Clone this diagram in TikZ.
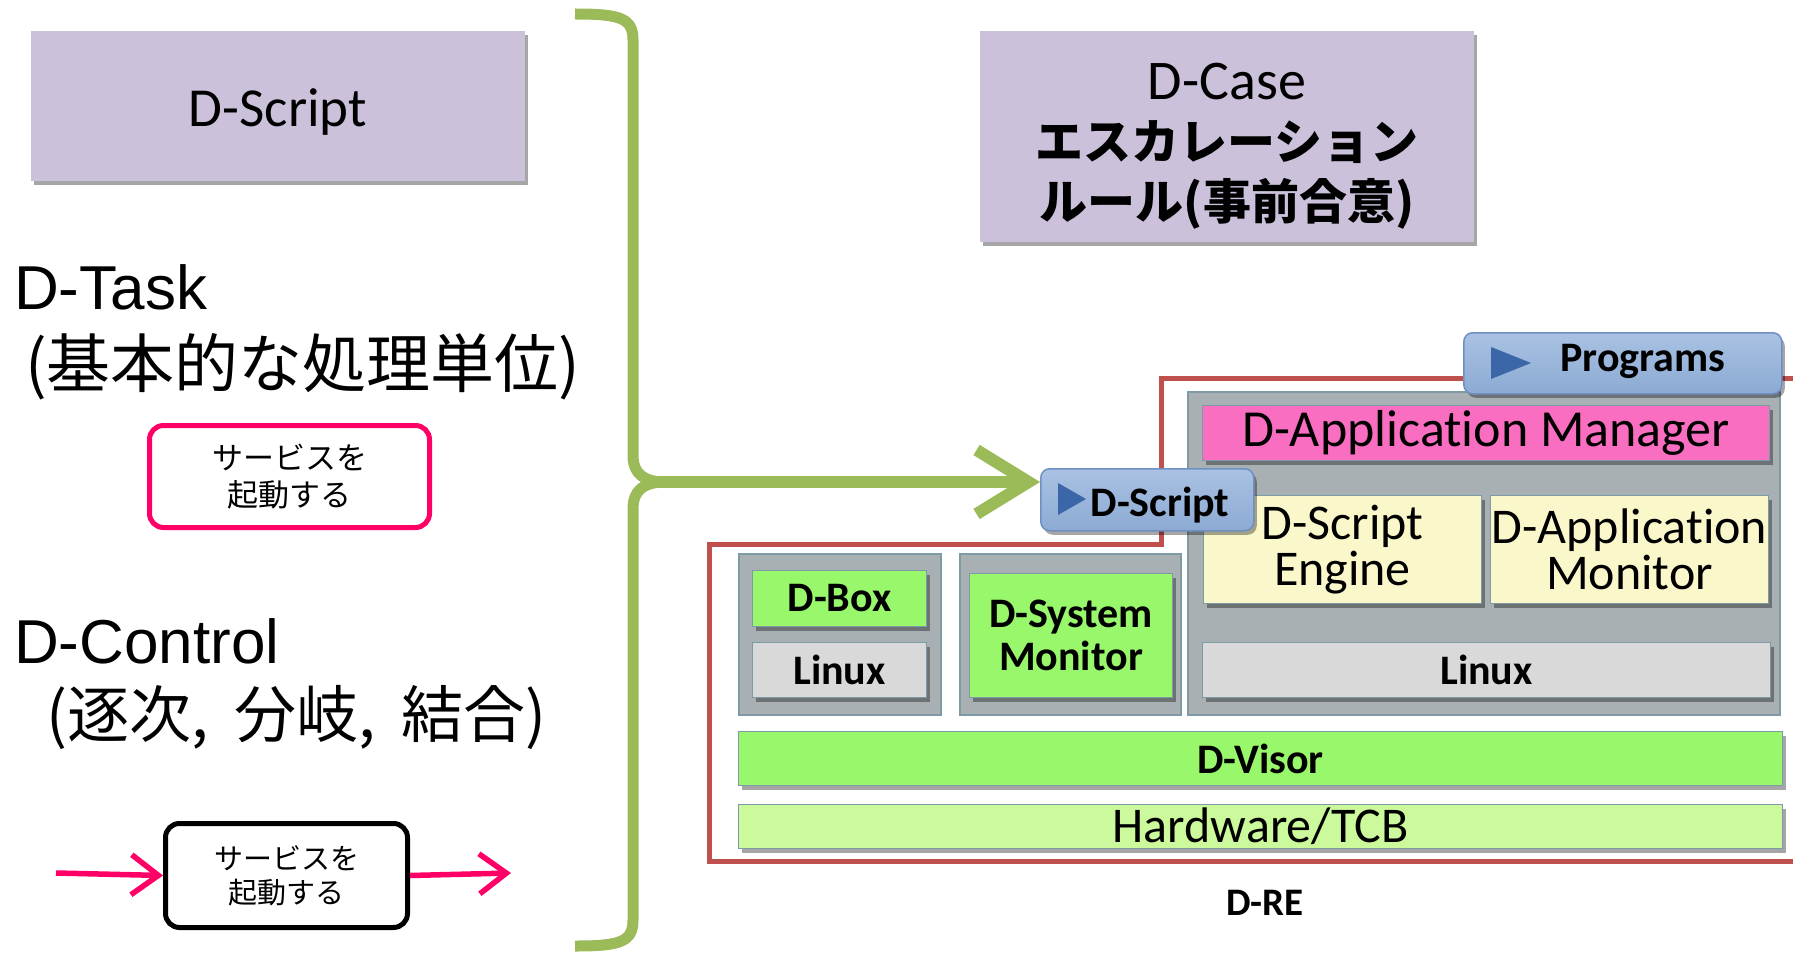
\documentclass[tikz,border=0pt]{standalone}
\usepackage{fontspec}
\setmainfont{Carlito}[Ligatures={NoCommon}]
\newfontfamily\arialf{Liberation Sans}
\newfontfamily\cjk{Noto Sans CJK JP}
\usetikzlibrary{arrows.meta,shadows}
\definecolor{lav}{HTML}{CCC1DA}
\definecolor{brk}{HTML}{9BBB59}
\definecolor{pnk}{HTML}{FF0066}
\definecolor{redl}{HTML}{C0504D}
\definecolor{tabtop}{HTML}{A9C2E3}
\definecolor{tabbot}{HTML}{8CAAD3}
\definecolor{tabedge}{HTML}{6F90C0}
\definecolor{tri}{HTML}{3B66A8}
\definecolor{panel}{HTML}{A8B0B3}
\definecolor{paneledge}{HTML}{7E9AA5}
\definecolor{edge}{HTML}{7C9BA6}
\definecolor{dam}{HTML}{F96EC1}
\definecolor{yel}{HTML}{FAF8CB}
\definecolor{lgray}{HTML}{D9D9D9}
\definecolor{grn}{HTML}{99F76B}
\definecolor{lgrn}{HTML}{CCF99B}
\begin{document}
\begin{tikzpicture}[x=1pt,y=-1pt,
  sh/.style={drop shadow={shadow xshift=3pt,shadow yshift=-4pt,opacity=.35,fill=black}},
  lavbox/.style={rectangle,anchor=north west,inner sep=0pt,fill=lav,align=center,sh},
  blk/.style={rectangle,anchor=north west,inner sep=0pt,draw=edge,line width=1pt,align=center,sh},
  pnl/.style={rectangle,anchor=north west,inner sep=0pt,fill=panel,draw=paneledge,line width=1.5pt},
  tabbox/.style={rectangle,rounded corners=9pt,anchor=north west,inner sep=0pt,draw=tabedge,line width=1.5pt,top color=tabtop,bottom color=tabbot,sh},
  reg/.style={font=\fontsize{50}{46}\selectfont},
  bld/.style={font=\bfseries\fontsize{42}{43}\selectfont},
  jbox/.style={rectangle,rounded corners=14pt,line width=5pt,minimum width=#1,anchor=north west,inner sep=0pt,align=center},
  arrp/.style={pnk,line width=5.5pt,-{Straight Barb[length=27pt,width=40pt]}},
  arrg/.style={brk,line width=12pt,-{Straight Barb[length=52pt,width=64pt]}},
  big/.style={anchor=base west,inner sep=0pt}
]
\useasboundingbox (0,0) rectangle (1793,955);

% left column
\node[lavbox,minimum width=494,minimum height=150] (lds) at (31,31) {};
\node[font=\fontsize{55}{55}\selectfont] (ldst) at (278,112) {D-Script};
\node[big,font=\arialf\fontsize{62}{62}\selectfont] (dtask) at (14,309) {D-Task};
\node[big,font=\cjk\fontsize{64}{64}\selectfont] (dtaskj) at (25,387) {(基本的な処理単位)};
\node[jbox=280,minimum height=102,draw=pnk,font=\cjk\fontsize{31}{37}\selectfont] (pbox) at (147,423) {サービスを\\起動する};
\node[big,font=\arialf\fontsize{62}{62}\selectfont] (dctl) at (14,663) {D-Control};
\node[big,font=\cjk\fontsize{62}{62}\selectfont] (dctlj) at (46,737) {(逐次,\hspace{26pt}分岐,\hspace{26pt}結合)};
\node[jbox=242,minimum height=104,draw=black,font=\cjk\fontsize{29}{34}\selectfont] (bbox) at (163,821) {サービスを\\起動する};
\coordinate (pin) at (56,873);
\coordinate (pout) at (511,873);
\draw[arrp] (pin) -- (bbox.west);
\draw[arrp] (bbox.east) -- (pout);

% bracket
\draw[brk,line width=11pt,line join=round]
  (575,14) .. controls (620,14) and (633,18) .. (633,40) -- (633,455)
  .. controls (633,475) and (645,481) .. (662,482)
  .. controls (645,483) and (633,489) .. (633,509) -- (633,920)
  .. controls (633,942) and (620,946) .. (575,946);
\coordinate (bp) at (652,482);

% D-Case
\node[lavbox,minimum width=494,minimum height=211] (dcase) at (980,31) {};
\node[align=center,font=\fontsize{48}{60}\selectfont] (dcaset) at (1227,146)
  {{\fontsize{56}{60}\selectfont D-Case}\\{\cjk\bfseries エスカレーション}\\{\cjk\bfseries ルール(事前合意)}};

% D-RE outline
\draw[redl,line width=5pt] (709,544) -- (1161,544) -- (1161,378) -- (1815,378) -- (1815,861) -- (709,861) -- cycle;

% panels
\node[pnl,minimum width=592,minimum height=323] (rp) at (1187,391) {};
\node[pnl,minimum width=202,minimum height=161] (p1) at (738,553) {};
\node[pnl,minimum width=221,minimum height=161] (p2) at (959,553) {};

\node[blk,fill=dam,minimum width=567,minimum height=55,font=\fontsize{52}{52}\selectfont] (dam) at (1202,405) {D-Application Manager};
\node[blk,fill=yel,minimum width=278,minimum height=108,reg] (dse) at (1203,495) {D-Script\\Engine};
\node[blk,fill=yel,minimum width=278,minimum height=108,reg] (dapm) at (1490,495) {D-Application\\Monitor};
\node[blk,fill=lgray,minimum width=568,minimum height=55,bld] (lin2) at (1202,642) {Linux};
\node[blk,fill=grn,minimum width=174,minimum height=56,bld] (dbox) at (752,570) {D-Box};
\node[blk,fill=lgray,minimum width=174,minimum height=55,bld] (lin1) at (752,642) {Linux};
\node[blk,fill=grn,minimum width=203,minimum height=124,bld] (dsm) at (969,573) {D-System\\Monitor};
\node[blk,fill=grn,minimum width=1044,minimum height=54,bld] (dvis) at (738,731) {D-Visor};
\node[blk,fill=lgrn,minimum width=1044,minimum height=44,reg] (hw) at (738,804) {Hardware/TCB};
\node[bld,font=\bfseries\fontsize{39}{39}\selectfont] (dre) at (1265,903) {D-RE};

% tabs
\node[tabbox,minimum width=318,minimum height=61] (prog) at (1463,332) {};
\fill[tri] (1491,347) -- (1531,363) -- (1491,379) -- cycle;
\node[bld] (progt) at (1643,361) {Programs};
\node[tabbox,minimum width=213,minimum height=62] (dstab) at (1040,468) {};
\fill[tri] (1058,483) -- (1086,499) -- (1058,515) -- cycle;
\node[bld] (dstabt) at (1160,505) {D-Script};

% green arrow
\draw[arrg] (bp) -- (dstab.west |- bp);
\end{tikzpicture}
\end{document}
